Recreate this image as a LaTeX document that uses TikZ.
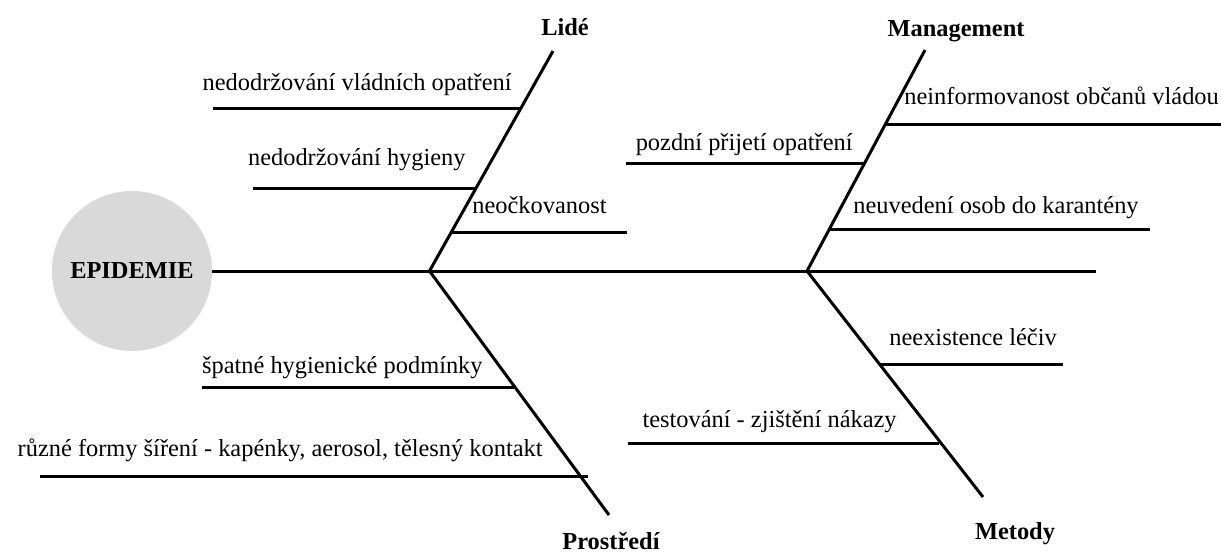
\documentclass[tikz,border=0pt]{standalone}
\usepackage{fontspec}
\setmainfont{Liberation Serif}
\usepackage{tikz}
\usetikzlibrary{calc}
\definecolor{headgray}{RGB}{217,217,217}

\begin{document}
\begin{tikzpicture}[x=0.5pt,y=-0.5pt]
    \tikzset{
      bone/.style={
        line width=1.5pt,
      },
      lbl/.style={
        inner sep=0pt,
        font=\fontsize{12.2}{14}\selectfont,
      },
      cat/.style={
        lbl,
        anchor=base,
        font=\fontsize{12.2}{14}\selectfont\bfseries,
      }
    }
    \useasboundingbox (0,0) rectangle (1221,554);

    % head of the fish
    \node[circle, fill=headgray, minimum size=80pt, inner sep=0pt,
          font=\fontsize{12.2}{14}\selectfont\bfseries] (epi) at (132,271) {EPIDEMIE};

    % spine and the four bones
    \coordinate (hubL) at (429.5,271);
    \coordinate (hubR) at (807,271);
    \coordinate (tail) at (1096,271);
    \coordinate (lideEnd) at (553,51);
    \coordinate (mgmtEnd) at (925,50);
    \coordinate (prosEnd) at (609,515);
    \coordinate (metEnd)  at (983,497);

    \draw[bone] (epi.east) -- (tail);
    \draw[bone] (hubL) -- (lideEnd);
    \draw[bone] (hubL) -- (prosEnd);
    \draw[bone] (hubR) -- (mgmtEnd);
    \draw[bone] (hubR) -- (metEnd);

    \node[cat] (lide) at (565,35)  {Lidé};
    \node[cat] (mgmt) at (956,36)  {Management};
    \node[cat] (pros) at (611,549) {Prostředí};
    \node[cat] (met)  at (1015,539) {Metody};

    % causes: name / from x / to x / line y / text x / text base / side / text
    \foreach \n/\xa/\xb/\y/\tx/\ty/\side/\txt in {
        c1/213/522/108/512/90/east/{nedodržování vládních opatření},
        c2/253/475/188/466/165/east/{nedodržování hygieny},
        c3/451/627/232/472/213/west/{neočkovanost},
        c4/885/1221/124/904/104/west/{neinformovanost občanů vládou},
        c5/626/865/163/853/150/east/{pozdní přijetí opatření},
        c6/829/1150/229/853/213/west/{neuvedení osob do karantény},
        c7/202/514/387/483/373/east/{špatné hygienické podmínky},
        c8/40/588/476/543/456/east/{různé formy šíření - kapénky, aerosol, tělesný kontakt},
        c9/879/1063/364/889/345/west/{neexistence léčiv},
        c10/628/939/443/897/427/east/{testování - zjištění nákazy}%
    }{
        \coordinate (\n-a) at (\xa,\y);
        \coordinate (\n-b) at (\xb,\y);
        \draw[bone] (\n-a) -- (\n-b);
        \node[lbl, anchor=base \side] (\n-t) at (\tx,\ty) {\txt};
    }
\end{tikzpicture}
\end{document}
